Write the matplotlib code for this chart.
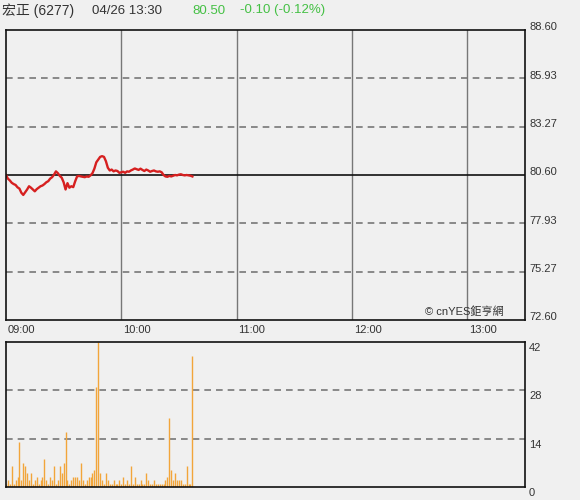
import matplotlib
matplotlib.use("Agg")
import matplotlib.pyplot as plt

plt.rcParams['font.family'] = ['Liberation Sans', 'Noto Sans CJK TC', 'DejaVu Sans']

# minutes after 09:00, one point per minute
price = [80.60, 80.40, 80.30, 80.17, 80.10, 80.05, 79.92, 79.85, 79.62, 79.50,
         79.65, 79.80, 79.98, 79.90, 79.80, 79.70, 79.82, 79.90, 79.98, 80.02,
         80.10, 80.20, 80.26, 80.40, 80.48, 80.62, 80.80, 80.70, 80.55, 80.45,
         80.20, 79.80, 80.15, 79.90, 79.98, 79.93, 80.25, 80.52, 80.55, 80.52,
         80.50, 80.48, 80.52, 80.50, 80.58, 80.70, 80.95, 81.30, 81.45, 81.60,
         81.64, 81.60, 81.36, 81.00, 80.85, 80.90, 80.80, 80.85, 80.82, 80.72,
         80.75, 80.78, 80.72, 80.80, 80.78, 80.85, 80.90, 80.96, 80.92, 80.88,
         80.95, 80.88, 80.82, 80.90, 80.85, 80.78, 80.82, 80.85, 80.80, 80.78,
         80.80, 80.75, 80.60, 80.52, 80.50, 80.55, 80.52, 80.56, 80.60, 80.58,
         80.62, 80.64, 80.60, 80.58, 80.60, 80.58, 80.56, 80.52]
volume = [1, 2, 1, 6, 1, 2, 3, 13, 2, 7,
          6, 4, 2, 4, 1, 2, 3, 1, 2, 3,
          8, 2, 1, 3, 2, 6, 1, 2, 6, 4,
          7, 16, 2, 1, 2, 3, 3, 3, 2, 7,
          2, 1, 2, 3, 3, 4, 5, 29, 42, 4,
          2, 1, 4, 2, 1, 1, 2, 1, 1, 2,
          1, 3, 1, 2, 1, 6, 1, 3, 1, 1,
          2, 1, 1, 4, 2, 1, 1, 2, 1, 1,
          1, 1, 1, 2, 3, 20, 5, 2, 4, 2,
          2, 2, 1, 1, 6, 1, 1, 38]
minutes = list(range(len(price)))

prev_close = 80.60
price_ticks = [72.60, 75.27, 77.93, 80.60, 83.27, 85.93, 88.60]
vol_ticks = [0, 14, 28, 42]
hour_ticks = [0, 60, 120, 180, 240]
hour_labels = ['09:00', '10:00', '11:00', '12:00', '13:00']

bg = '#f0f0f0'
fig = plt.figure(figsize=(5.8, 5.0), dpi=100, facecolor=bg)

# price panel
ax = fig.add_axes([0.0103, 0.36, 0.8947, 0.58], facecolor=bg)
ax.set_xlim(0, 270)
ax.set_ylim(72.60, 88.60)
for t in hour_ticks[1:]:
    ax.axvline(t, color='#777777', lw=1)
for p in price_ticks[1:-1]:
    if p == prev_close:
        ax.axhline(p, color='#111111', lw=1.2)
    else:
        ax.axhline(p, color='#777777', lw=1.2, ls=(0, (4, 3)))
ax.plot(minutes, price, color='#d62020', lw=1.7)
ax.set_xticks([])
ax.set_yticks([])
for s in ax.spines.values():
    s.set_color('#111111')
    s.set_linewidth(1.2)
for p in price_ticks:
    ax.text(1.008, p + 0.15, '%.2f' % p, transform=ax.get_yaxis_transform(),
            fontsize=8, color='#333333', va='center', ha='left')
for t, lab in zip(hour_ticks, hour_labels):
    ax.text(t + 1, 72.3, lab, fontsize=8, color='#333333', ha='left', va='top')
ax.text(259, 72.75, '© cnYES鉅亨網', fontsize=8, color='#333333',
        ha='right', va='bottom')

# volume panel
bx = fig.add_axes([0.0103, 0.026, 0.8947, 0.29], facecolor=bg)
bx.set_xlim(0, 270)
bx.set_ylim(0, 42)
for v in vol_ticks[1:-1]:
    bx.axhline(v, color='#777777', lw=1.2, ls=(0, (4, 3)))
bx.vlines(minutes, 0, volume, color='#f2a53a', lw=1.0)
bx.set_xticks([])
bx.set_yticks([])
for s in bx.spines.values():
    s.set_color('#111111')
    s.set_linewidth(1.2)
for v in vol_ticks:
    bx.text(1.008, v - 1.7, str(v), transform=bx.get_yaxis_transform(),
            fontsize=8, color='#333333', va='center', ha='left')

# header
fig.text(0.004, 0.979, '宏正 (6277)', fontsize=10, color='#333333', va='center')
fig.text(0.158, 0.979, '04/26 13:30', fontsize=9.5, color='#333333', va='center')
fig.text(0.331, 0.979, '80.50', fontsize=9.5, color='#44c044', va='center')
fig.text(0.413, 0.979, '-0.10 (-0.12%)', fontsize=9.5, color='#44c044', va='center')

fig.savefig('out.png', dpi=100, facecolor=bg)
